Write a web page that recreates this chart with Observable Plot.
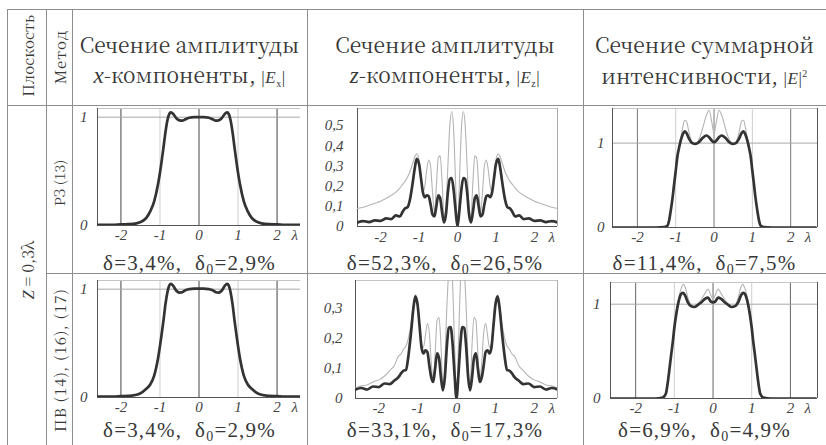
<!DOCTYPE html>
<html><head><meta charset="utf-8">
<script src="https://cdn.jsdelivr.net/npm/d3@7"></script>
<script src="https://cdn.jsdelivr.net/npm/@observablehq/plot@0.6"></script>
<style>
body{margin:0;background:#fff;}
#root{position:relative;width:826px;height:445px;overflow:hidden;font-family:"Liberation Serif","Noto Serif CJK SC","DejaVu Serif",serif;color:#383838;}
.ln{position:absolute;background:#8e8e8e;}
.hd{position:absolute;text-align:center;font-family:"Noto Serif CJK SC","DejaVu Serif",serif;font-size:21px;line-height:30px;letter-spacing:0;white-space:nowrap;}
.hd i{font-family:"Liberation Serif",serif;font-size:23px;}
.cap{position:absolute;text-align:center;font-size:21px;letter-spacing:1.2px;white-space:nowrap;line-height:22px;}
.cap sub{font-size:14px;vertical-align:-4px;line-height:0;}
.rot{position:absolute;transform:translate(-50%,-50%) rotate(-90deg);white-space:nowrap;font-family:"Noto Serif CJK SC","DejaVu Serif",serif;}
.rot i{font-family:"Liberation Serif",serif;}
.pn{position:absolute;}
.em{font-size:17px;letter-spacing:0.5px;font-family:"Liberation Serif",serif;}
.em i{font-size:17px;}
</style></head><body><div id="root"></div>
<script>
// ---------- data ----------
const xTicks = [-2, -1, 0, 1, 2];
const lambdaAt = 2.45;

// |Ex| panels
const xEx = [-2.6,-2.2,-2.0,-1.8,-1.6,-1.45,-1.35,-1.25,-1.15,-1.05,-0.97,-0.91,-0.86,-0.81,-0.76,-0.72,-0.66,-0.58,-0.5,-0.43,-0.35,-0.25,-0.12,0,0.12,0.25,0.35,0.43,0.5,0.58,0.66,0.72,0.76,0.81,0.86,0.91,0.97,1.05,1.15,1.25,1.35,1.45,1.6,1.8,2.0,2.2,2.6];
const exRZthick = [0.005,0.005,0.01,0.012,0.02,0.04,0.07,0.13,0.22,0.38,0.56,0.72,0.86,0.97,1.03,1.045,1.03,0.99,0.97,0.968,0.98,0.995,1.0,1.0,1.0,0.995,0.98,0.968,0.97,0.99,1.03,1.045,1.03,0.97,0.86,0.72,0.56,0.38,0.22,0.13,0.07,0.04,0.02,0.012,0.01,0.005,0.005];
const exRZthin = [0,0.002,0.006,0.01,0.018,0.035,0.065,0.12,0.21,0.37,0.55,0.72,0.87,0.98,1.04,1.05,1.035,0.995,0.975,0.972,0.985,0.998,1.0,1.0,1.0,0.998,0.985,0.972,0.975,0.995,1.035,1.05,1.04,0.98,0.87,0.72,0.55,0.37,0.21,0.12,0.065,0.035,0.018,0.01,0.006,0.002,0];
const exPVthick = [0.008,0.008,0.012,0.015,0.025,0.05,0.08,0.12,0.2,0.36,0.55,0.71,0.86,0.97,1.035,1.05,1.03,0.985,0.968,0.972,0.99,1.0,1.005,1.005,1.005,1.0,0.99,0.972,0.968,0.985,1.03,1.05,1.035,0.97,0.86,0.71,0.55,0.36,0.2,0.12,0.08,0.05,0.025,0.015,0.012,0.008,0.008];
const exPVthin = [0.003,0.004,0.008,0.012,0.022,0.045,0.075,0.12,0.21,0.37,0.56,0.72,0.87,0.98,1.04,1.055,1.035,0.99,0.972,0.975,0.99,1.0,1.0,1.0,1.0,1.0,0.99,0.975,0.972,0.99,1.035,1.055,1.04,0.98,0.87,0.72,0.56,0.37,0.21,0.12,0.075,0.045,0.022,0.012,0.008,0.004,0.003];

// |Ez| panels
const xEz = [-2.6,-2.45,-2.3,-2.15,-2.0,-1.85,-1.72,-1.6,-1.5,-1.42,-1.36,-1.3,-1.24,-1.17,-1.11,-1.06,-1.0,-0.95,-0.9,-0.85,-0.8,-0.75,-0.7,-0.65,-0.6,-0.55,-0.5,-0.45,-0.4,-0.35,-0.3,-0.25,-0.2,-0.15,-0.1,-0.05,0,0.05,0.1,0.15,0.2,0.25,0.3,0.35,0.4,0.45,0.5,0.55,0.6,0.65,0.7,0.75,0.8,0.85,0.9,0.95,1.0,1.06,1.11,1.17,1.24,1.3,1.36,1.42,1.5,1.6,1.72,1.85,2.0,2.15,2.3,2.45,2.6];
const ezRZthick = [0.02,0.027,0.022,0.03,0.028,0.04,0.037,0.055,0.05,0.075,0.09,0.095,0.13,0.21,0.29,0.335,0.31,0.24,0.17,0.145,0.155,0.15,0.11,0.06,0.05,0.1,0.155,0.14,0.07,0.02,0.06,0.17,0.235,0.24,0.18,0.08,0,0.08,0.18,0.24,0.235,0.17,0.06,0.02,0.07,0.14,0.155,0.1,0.05,0.06,0.11,0.15,0.155,0.145,0.17,0.24,0.31,0.335,0.29,0.21,0.13,0.095,0.09,0.075,0.05,0.055,0.037,0.04,0.028,0.03,0.022,0.027,0.02];
const ezRZthin = [0.09,0.095,0.105,0.115,0.125,0.14,0.155,0.17,0.19,0.21,0.225,0.245,0.27,0.31,0.345,0.36,0.33,0.25,0.17,0.2,0.28,0.33,0.3,0.17,0.07,0.2,0.34,0.35,0.22,0.05,0.1,0.3,0.5,0.57,0.48,0.22,0,0.22,0.48,0.57,0.5,0.3,0.1,0.05,0.22,0.35,0.34,0.2,0.07,0.17,0.3,0.33,0.28,0.2,0.17,0.25,0.33,0.36,0.345,0.31,0.27,0.245,0.225,0.21,0.19,0.17,0.155,0.14,0.125,0.115,0.105,0.095,0.09];
const ezPVthick = [0.03,0.035,0.03,0.04,0.038,0.05,0.048,0.06,0.07,0.085,0.093,0.095,0.14,0.22,0.3,0.34,0.31,0.24,0.17,0.15,0.16,0.155,0.11,0.07,0.055,0.1,0.15,0.135,0.07,0.027,0.07,0.17,0.235,0.238,0.18,0.08,0,0.08,0.18,0.238,0.235,0.17,0.07,0.027,0.07,0.135,0.15,0.1,0.055,0.07,0.11,0.155,0.16,0.15,0.17,0.24,0.31,0.34,0.3,0.22,0.14,0.095,0.093,0.085,0.07,0.06,0.048,0.05,0.038,0.04,0.03,0.035,0.03];
const ezPVthin = [0.035,0.042,0.045,0.055,0.062,0.075,0.093,0.11,0.14,0.15,0.165,0.175,0.2,0.25,0.31,0.345,0.32,0.25,0.18,0.17,0.21,0.25,0.22,0.12,0.06,0.15,0.26,0.27,0.18,0.04,0.12,0.3,0.42,0.45,0.38,0.18,0,0.18,0.38,0.45,0.42,0.3,0.12,0.04,0.18,0.27,0.26,0.15,0.06,0.12,0.22,0.25,0.21,0.17,0.18,0.25,0.32,0.345,0.31,0.25,0.2,0.175,0.165,0.15,0.14,0.11,0.093,0.075,0.062,0.055,0.045,0.042,0.035];

// |E|^2 panels
const xE2 = [-2.65,-2.0,-1.5,-1.3,-1.22,-1.17,-1.13,-1.08,-1.04,-1.0,-0.96,-0.91,-0.87,-0.82,-0.77,-0.72,-0.65,-0.57,-0.48,-0.4,-0.3,-0.2,-0.13,-0.06,0,0.06,0.13,0.2,0.3,0.4,0.48,0.57,0.65,0.72,0.77,0.82,0.87,0.91,0.96,1.0,1.04,1.08,1.13,1.17,1.22,1.3,1.5,2.0,2.65];
const e2RZthick = [0,0,0,0.005,0.02,0.09,0.2,0.36,0.52,0.67,0.83,0.95,1.03,1.1,1.14,1.12,1.05,1.0,0.99,1.01,1.06,1.09,1.07,1.03,1.01,1.03,1.07,1.09,1.06,1.01,0.99,1.0,1.05,1.12,1.14,1.1,1.03,0.95,0.83,0.67,0.52,0.36,0.2,0.09,0.02,0.005,0,0,0];
const e2RZthin = [0,0,0.003,0.01,0.03,0.1,0.21,0.37,0.53,0.68,0.84,0.97,1.06,1.18,1.27,1.26,1.12,1.01,0.99,1.04,1.17,1.33,1.39,1.25,1.12,1.25,1.39,1.33,1.17,1.04,0.99,1.01,1.12,1.26,1.27,1.18,1.06,0.97,0.84,0.68,0.53,0.37,0.21,0.1,0.03,0.01,0.003,0,0];
const e2PVthick = [0,0,0,0.01,0.05,0.17,0.3,0.47,0.6,0.75,0.87,0.99,1.06,1.11,1.12,1.09,1.02,0.98,0.97,0.99,1.02,1.06,1.07,1.03,1.02,1.03,1.07,1.06,1.02,0.99,0.97,0.98,1.02,1.09,1.12,1.11,1.06,0.99,0.87,0.75,0.6,0.47,0.3,0.17,0.05,0.01,0,0,0];
const e2PVthin = [0,0,0,0.01,0.05,0.17,0.3,0.47,0.61,0.76,0.89,1.02,1.1,1.17,1.21,1.18,1.07,0.99,0.97,1.0,1.05,1.12,1.16,1.1,1.05,1.1,1.16,1.12,1.05,1.0,0.97,0.99,1.07,1.18,1.21,1.17,1.1,1.02,0.89,0.76,0.61,0.47,0.3,0.17,0.05,0.01,0,0,0];

const ezTicksRZ = [0, 0.1, 0.2, 0.3, 0.4, 0.5];
const ezTicksPV = [0, 0.1, 0.2, 0.3];
const unitTicks = [0, 1];

const deltas = ["3,4", "52,3", "11,4", "3,4", "33,1", "6,9"];
const deltas0 = ["2,9", "26,5", "7,5", "2,9", "17,3", "4,9"];

// ---------- layout ----------
const SERIF = '"Liberation Serif", "Noto Serif CJK SC", "DejaVu Serif", serif';
const root = document.getElementById("root");
function el(cls, css, html) {
  const d = document.createElement("div");
  d.className = cls;
  Object.assign(d.style, css);
  if (html != null) d.innerHTML = html;
  root.appendChild(d);
  return d;
}
// table lines
[[7,9,1,436],[46,9,1,436],[72,9,1,436],[307,9,1,436],[583,9,1,436]].forEach(([l,t,w,h]) => el("ln",{left:l+"px",top:t+"px",width:w+"px",height:h+"px"}));
[[7,9,819,1],[7,105,819,1],[46,273,780,1]].forEach(([l,t,w,h]) => el("ln",{left:l+"px",top:t+"px",width:w+"px",height:h+"px"}));

// headers
el("hd",{left:"72px",top:"29px",width:"235px"},"Сечение амплитуды<br><i>x</i>-компоненты, <span class='em'>|<i>E</i><sub style='font-size:10px'>x</sub>|</span>");
el("hd",{left:"307px",top:"29px",width:"276px"},"Сечение амплитуды<br><i>z</i>-компоненты, <span class='em'>|<i>E</i><sub style='font-size:10px'>z</sub>|</span>");
el("hd",{left:"583px",top:"29px",width:"243px"},"Сечение суммарной<br>интенсивности, <span class='em'>|<i>E</i>|<sup style='font-size:10px'>2</sup></span>");

el("rot",{left:"27px",top:"56px",fontSize:"15px"},"Плоскость");
el("rot",{left:"59px",top:"57px",fontSize:"15px",letterSpacing:"1px"},"Метод");
el("rot",{left:"27px",top:"270px",fontSize:"16px"},"<i>Z</i> = 0,3λ");
el("rot",{left:"59px",top:"183px",fontSize:"14px"},"РЗ (13)");
el("rot",{left:"59px",top:"360px",fontSize:"15px",letterSpacing:"1px"},"ПВ (14), (16), (17)");

function fmtY(d){ return String(d).replace(".", ","); }
function fmtX(d){ return d === lambdaAt ? "λ" : String(d); }

function panel(o) {
  const thin = o.xs.map((x, i) => ({x, y: o.thin[i]}));
  const thick = o.xs.map((x, i) => ({x, y: o.thick[i]}));
  const marks = [
    Plot.ruleX(o.lightX, {stroke: "#cfcfcf", strokeWidth: 1}),
    Plot.ruleX(o.darkX, {stroke: o.darkCol, strokeWidth: 1}),
    Plot.ruleY(o.hY, {stroke: "#a8a8a8", strokeWidth: 1}),
    Plot.ruleY([o.yDomain[1]], {stroke: "#c4c4c4", strokeWidth: 1}),
    o.rightCol ? Plot.ruleX([o.xDomain[1]], {stroke: o.rightCol, strokeWidth: 1}) : null,
    Plot.ruleX([o.xDomain[0]], {stroke: "#555", strokeWidth: 1}),
    Plot.ruleY([0], {stroke: "#555", strokeWidth: 1}),
    Plot.line(thin, {x: "x", y: "y", stroke: "#b4b4b4", strokeWidth: 1.1, curve: "monotone-x", clip: true}),
    Plot.line(thick, {x: "x", y: "y", stroke: "#333", strokeWidth: 2.7, curve: "monotone-x", clip: true}),
    Plot.axisX({ticks: [...xTicks, lambdaAt], tickSize: 0, tickPadding: o.xPad, tickFormat: fmtX, label: null, fontFamily: SERIF, fontStyle: "italic"}),
    Plot.axisY({ticks: o.yTicks, tickSize: 0, tickPadding: o.yPad, tickFormat: fmtY, label: null, fontFamily: SERIF, fontStyle: "italic"})
  ].filter(Boolean);
  const svg = Plot.plot({
    width: o.w, height: o.h,
    marginLeft: o.ml, marginRight: o.mr, marginTop: o.mt, marginBottom: o.mb,
    x: {domain: o.xDomain},
    y: {domain: o.yDomain},
    style: {fontFamily: SERIF, fontSize: "15px", fontStyle: "italic", color: "#444", background: "transparent", overflow: "visible"},
    marks
  });
  const d = el("pn", {left: o.left + "px", top: o.top + "px"});
  d.appendChild(svg);
}

const dx = [-2.6, 2.6];
const dx3 = [-2.65, 2.7];

panel({left:72, top:105, w:235, h:150, ml:25, mr:7, mt:3, mb:30, xDomain:dx, yDomain:[0,1.08], yTicks:unitTicks, xs:xEx, thick:exRZthick, thin:exRZthin, darkX:[-2,0,2], lightX:[-1,1], hY:[1], darkCol:"#444", rightCol:null, xPad:4, yPad:10});
panel({left:307, top:105, w:276, h:150, ml:50, mr:26, mt:3, mb:29, xDomain:dx, yDomain:[0,0.585], yTicks:ezTicksRZ, xs:xEz, thick:ezRZthick, thin:ezRZthin, darkX:[], lightX:[], hY:[], darkCol:"#444", rightCol:"#aaa", xPad:5, yPad:14});
panel({left:583, top:105, w:243, h:150, ml:29, mr:9, mt:3, mb:28, xDomain:dx3, yDomain:[0,1.41], yTicks:unitTicks, xs:xE2, thick:e2RZthick, thin:e2RZthin, darkX:[-2,0,2], lightX:[-1,1], hY:[1], darkCol:"#777", rightCol:"#555", xPad:4, yPad:8});
panel({left:72, top:273, w:235, h:150, ml:25, mr:7, mt:7, mb:26, xDomain:dx, yDomain:[0,1.08], yTicks:unitTicks, xs:xEx, thick:exPVthick, thin:exPVthin, darkX:[-2,0,2], lightX:[-1,1], hY:[1], darkCol:"#444", rightCol:null, xPad:4, yPad:10});
panel({left:307, top:273, w:276, h:150, ml:48, mr:26, mt:7, mb:25, xDomain:dx, yDomain:[0,0.393], yTicks:ezTicksPV, xs:xEz, thick:ezPVthick, thin:ezPVthin, darkX:[], lightX:[], hY:[], darkCol:"#444", rightCol:"#aaa", xPad:4, yPad:13});
panel({left:583, top:273, w:243, h:150, ml:27, mr:9, mt:9, mb:25, xDomain:dx3, yDomain:[0,1.23], yTicks:unitTicks, xs:xE2, thick:e2PVthick, thin:e2PVthin, darkX:[-2,0,2], lightX:[-1,1], hY:[1], darkCol:"#666", rightCol:"#555", xPad:4, yPad:10});

// captions
const capPos = [[72,235,252],[307,276,252],[583,243,252],[72,235,419],[307,276,419],[583,243,419]];
capPos.forEach(([l,w,t], i) => {
  el("cap", {left: l + "px", width: w + "px", top: t + "px"}, "δ=" + deltas[i] + "%,&nbsp; δ<sub>0</sub>=" + deltas0[i] + "%");
});
</script></body></html>
